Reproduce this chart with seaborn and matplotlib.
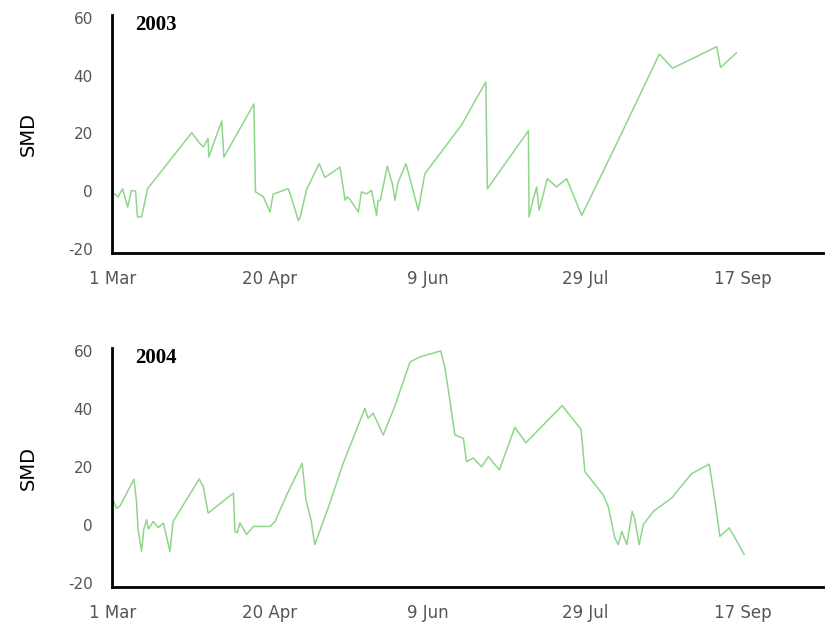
import numpy as np
import pandas as pd
import seaborn as sns
import matplotlib.pyplot as plt

# days since 1 Mar, SMD values
days_2003 = [0.3, 1.9, 3.3, 4.9, 6.1, 7.4, 8.0, 9.3, 10.9, 11.2, 25.2, 27.8, 28.9, 30.4, 30.6,
             34.7, 35.4, 38.4, 44.9, 45.4, 47.9, 50.0, 51.0, 55.8, 56.3, 59.0, 59.6, 61.6,
             65.6, 67.4, 72.2, 73.8, 74.5, 75.5, 78.0, 79.0, 80.6, 82.2, 83.8, 84.2, 85.0,
             87.2, 88.9, 89.6, 90.6, 93.1, 94.2, 97.0, 98.8, 99.1, 110.7, 118.4, 118.9,
             131.9, 132.1, 133.4, 134.5, 135.3, 137.9, 140.8, 144.0, 148.8, 160.9, 171.0,
             173.4, 177.6, 191.6, 192.8, 197.9]
smd_2003 = [-0.7, -2.0, 0.8, -5.6, 0.2, 0.0, -9.0, -9.0, -1.0, 0.8, 20.2, 16.5, 15.3, 18.2, 11.8,
            24.3, 11.8, 17.6, 30.2, -0.3, -2.0, -7.3, -1.1, 0.8, -0.7, -10.2, -9.0, 0.5,
            9.5, 4.7, 8.3, -3.2, -2.0, -3.2, -7.3, -0.3, -1.0, 0.2, -8.5, -3.5, -3.0,
            8.6, 2.0, -3.2, 3.0, 9.5, 5.0, -6.7, 4.3, 6.0, 22.9, 37.9, 0.8,
            20.9, -9.0, -3.0, 1.4, -6.7, 4.3, 1.4, 4.3, -8.5, 18.8, 42.0,
            47.5, 42.6, 50.1, 42.9, 48.0]

days_2004 = [0.0, 1.4, 2.5, 6.9, 7.7, 8.2, 9.3, 10.0, 10.9, 11.5, 13.0, 14.6, 16.2, 18.3, 19.3,
             27.6, 28.9, 30.4, 38.4, 38.9, 39.6, 40.5, 42.6, 44.7, 50.0, 51.6, 55.3, 60.2,
             61.4, 63.0, 64.2, 69.0, 73.2, 80.1, 81.1, 82.7, 85.9, 89.6, 94.4, 97.5, 104.1,
             105.5, 107.0, 108.6, 111.3, 112.3, 114.4, 117.1, 119.2, 122.7, 127.6, 131.1,
             142.6, 148.6, 149.8, 155.6, 157.2, 159.3, 160.4, 161.5, 163.1, 164.8, 165.6,
             167.0, 168.3, 171.5, 177.3, 183.6, 189.2, 190.5, 192.6, 195.6, 200.3]
smd_2004 = [9.2, 5.7, 6.5, 15.7, 8.0, -1.7, -9.2, -1.7, 1.7, -1.5, 1.1, -1.0, 0.6, -9.2, 1.1,
            15.8, 13.0, 4.0, 10.9, -2.3, -2.8, 0.6, -3.4, -0.6, -0.6, 1.1, 10.3, 21.2,
            8.6, 1.7, -6.9, 7.5, 21.2, 40.2, 36.7, 38.5, 31.0, 41.0, 56.2, 57.9, 60.0,
            53.9, 43.0, 31.0, 29.8, 21.8, 23.0, 20.0, 23.5, 18.9, 33.6, 28.3,
            41.1, 32.9, 18.3, 10.3, 6.3, -4.6, -6.9, -2.3, -6.9, 4.6, 2.0,
            -6.9, 0.0, 4.6, 9.2, 17.6, 20.9, 12.0, -4.0, -1.1, -10.3]

tick_days = [0, 50, 100, 150, 200]
tick_labels = ['1 Mar', '20 Apr', '9 Jun', '29 Jul', '17 Sep']

sns.set_style('white')
fig = plt.figure(figsize=(8.25, 6.24), dpi=100)
ax1 = fig.add_axes([0.136, 0.5946, 0.864, 0.381])
ax2 = fig.add_axes([0.136, 0.0593, 0.864, 0.383])

for ax, days, smd, year in [(ax1, days_2003, smd_2003, '2003'), (ax2, days_2004, smd_2004, '2004')]:
    df = pd.DataFrame({'day': days, 'SMD': smd})
    sns.lineplot(data=df, x='day', y='SMD', ax=ax, color='#8fd68a', linewidth=1.1,
                 estimator=None, sort=False)
    ax.set_xlim(0, 225.9)
    ax.set_ylim(-21.5, 61)
    ax.set_xticks(tick_days)
    ax.set_xticklabels(tick_labels)
    ax.set_yticks([-20, 0, 20, 40, 60])
    ax.set_yticklabels(['-20', '0', '20', '40', '60'])
    ax.set_xlabel('')
    ax.set_ylabel('SMD', fontsize=14, labelpad=22, color='black')
    ax.tick_params(axis='x', length=7, width=1.6, color='black', pad=5,
                   labelsize=12, labelcolor='#555555', direction='out')
    ax.tick_params(axis='y', length=0, pad=14, labelsize=11, labelcolor='#555555')
    for s in ['top', 'right']:
        ax.spines[s].set_visible(False)
    for s in ['left', 'bottom']:
        ax.spines[s].set_color('black')
        ax.spines[s].set_linewidth(2)
    ax.text(0.032, 1.0, year, transform=ax.transAxes, ha='left', va='top', color='black',
            fontsize=15, fontweight='bold', family='Liberation Serif')

fig.savefig('out.png', dpi=100)
